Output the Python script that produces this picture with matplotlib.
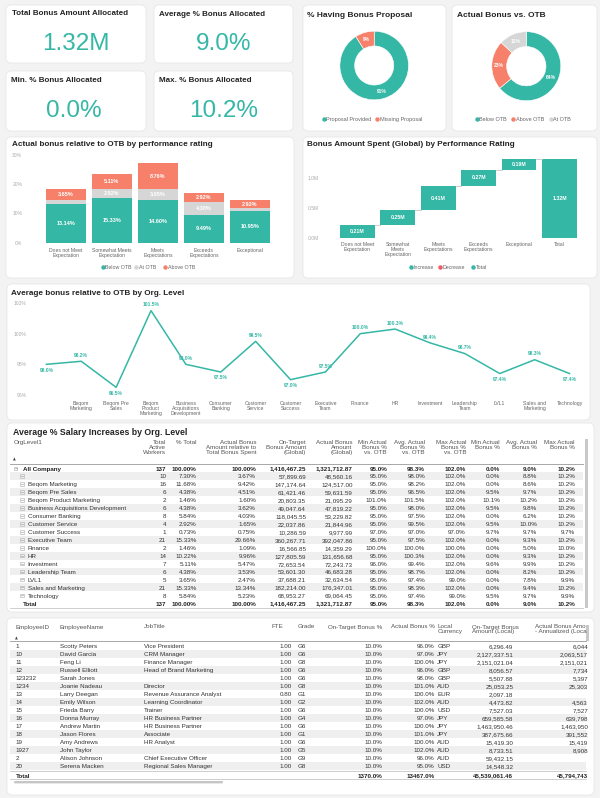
import matplotlib
matplotlib.use("Agg")
import matplotlib.pyplot as plt
from matplotlib.patches import FancyBboxPatch, Rectangle
import numpy as np

plt.rcParams['font.family'] = ['Liberation Sans', 'DejaVu Sans']

W, H = 600, 798
TEAL = '#35b7a6'
SALMON = '#f6806a'
LGRAY = '#d6d6d6'
RED = '#ee5a6a'
DARK = '#252423'
TXT = '#333333'
HDR = '#555555'
MUTED = '#666666'
AXC = '#aaaaaa'

# ---------------- data ----------------
kpi_titles = ['Total Bonus Amount Allocated', 'Average % Bonus Allocated',
              'Min. % Bonus Allocated', 'Max. % Bonus Allocated']
kpi_values = ['1.32M', '9.0%', '0.0%', '10.2%']

proposal_labels = ['Proposal Provided', 'Missing Proposal']
proposal_pct = [91, 9]
otb_labels = ['Below OTB', 'Above OTB', 'At OTB']
otb_pct = [64, 23, 13]

ratings = ['Does not Meet\nExpectation', 'Somewhat Meets\nExpectation', 'Meets\nExpectations',
           'Exceeds\nExpectations', 'Exceptional']
below_otb = [13.14, 15.33, 14.60, 9.49, 10.95]
at_otb = [1.46, 2.92, 3.65, 4.38, 0.73]
above_otb = [3.65, 5.11, 8.76, 2.92, 2.92]

wf_labels = ['Does not Meet\nExpectation', 'Somewhat\nMeets\nExpectation', 'Meets\nExpectations',
             'Exceeds\nExpectations', 'Exceptional', 'Total']
wf_values = [0.212, 0.246, 0.408, 0.269, 0.187]

org_names = ['', 'Beqom Marketing', 'Beqom Pre Sales', 'Beqom Product Marketing',
             'Business Acquisitions Development', 'Consumer Banking', 'Customer Service',
             'Customer Success', 'Executive Team', 'Finance', 'HR', 'Investment',
             'Leadership Team', 'LVL1', 'Sales and Marketing', 'Technology']
org_ticks = ['', 'Beqom\nMarketing', 'Beqom Pre\nSales', 'Beqom\nProduct\nMarketing',
             'Business\nAcquisitions\nDevelopment', 'Consumer\nBanking', 'Customer\nService',
             'Customer\nSuccess', 'Executive\nTeam', 'Finance', 'HR', 'Investment',
             'Leadership\nTeam', 'LVL1', 'Sales and\nMarketing', 'Technology']
workers = [10, 16, 6, 2, 6, 8, 4, 1, 21, 2, 14, 7, 6, 5, 21, 8]
pct_total = [7.30, 11.68, 4.38, 1.46, 4.38, 5.84, 2.92, 0.73, 15.33, 1.46, 10.22, 5.11, 4.38, 3.65, 15.33, 5.84]
rel_spent = [3.67, 9.42, 4.51, 1.60, 3.62, 4.03, 1.65, 0.75, 29.66, 1.09, 9.96, 5.47, 3.53, 2.47, 13.34, 5.23]
ontarget_global = [57899.69, 147174.64, 61421.46, 20803.35, 49047.64, 118045.55, 22037.86, 10286.59,
                   360267.71, 16566.85, 127805.59, 72653.54, 53601.30, 37688.21, 182214.00, 68953.27]
actual_global = [48560.16, 124517.00, 59631.59, 21095.29, 47819.22, 53229.82, 21844.96, 9977.99,
                 392047.86, 14359.29, 131656.68, 72243.73, 46683.28, 32634.54, 176347.01, 69064.45]
min_vs_otb = [95.0, 95.0, 95.0, 101.0, 95.0, 95.0, 95.0, 97.0, 95.0, 100.0, 95.0, 96.0, 95.0, 95.0, 95.0, 95.0]
avg_vs_otb = [98.0, 98.2, 96.5, 101.5, 98.0, 97.5, 99.5, 97.0, 97.5, 100.0, 100.3, 99.4, 98.7, 97.4, 98.3, 97.4]
max_vs_otb = [102.0, 102.0, 102.0, 102.0, 102.0, 102.0, 102.0, 97.0, 102.0, 100.0, 102.0, 102.0, 102.0, 99.0, 102.0, 99.0]
min_pct = [0.0, 0.0, 9.5, 10.1, 9.5, 0.0, 9.5, 9.7, 0.0, 0.0, 0.0, 9.6, 0.0, 0.0, 0.0, 9.5]
avg_pct = [8.8, 8.6, 9.7, 10.2, 9.8, 6.2, 10.0, 9.7, 9.3, 5.0, 9.3, 9.9, 8.2, 7.8, 9.4, 9.7]
max_pct = [10.2, 10.2, 10.2, 10.2, 10.2, 10.2, 10.2, 9.7, 10.2, 10.0, 10.2, 10.2, 10.2, 9.9, 10.2, 9.9]
org_total = [137, 100.00, 100.00, 1416467.25, 1321712.87, 95.0, 98.3, 102.0, 0.0, 9.0, 10.2]

emp_ids = ['1', '10', '11', '12', '123232', '1234', '13', '14', '15', '16', '17', '18', '19', '1927', '2', '20']
emp_names = ['Scotty Peters', 'David Garcia', 'Feng Li', 'Russell Elliott', 'Sarah Jones', 'Joanie Nadeau',
             'Larry Deegan', 'Emily Wilson', 'Frieda Barry', 'Donna Murray', 'Andrew Martin',
             'Jason Flores', 'Amy Andrews', 'John Taylor', 'Alison Johnson', 'Serena Macken']
job_titles = ['Vice President', 'CRM Manager', 'Finance Manager', 'Head of Brand Marketing', '', 'Director',
              'Revenue Assurance Analyst', 'Learning Coordinator', 'Trainer', 'HR Business Partner',
              'HR Business Partner', 'Associate', 'HR Analyst', '', 'Chief Executive Officer',
              'Regional Sales Manager']
fte = [1.00, 1.00, 1.00, 1.00, 1.00, 1.00, 0.80, 1.00, 1.00, 1.00, 1.00, 1.00, 1.00, 1.00, 1.00, 1.00]
grades = ['G6', 'G6', 'G8', 'G6', 'G6', 'G8', 'G1', 'G2', 'G6', 'G4', 'G6', 'G1', 'G6', 'G5', 'G9', 'G8']
ot_bonus_pct = [10.0] * 16
act_bonus_pct = [96.0, 97.0, 100.0, 96.0, 98.0, 101.0, 100.0, 102.0, 100.0, 97.0, 100.0, 101.0, 100.0, 102.0, 96.0, 95.0]
currency = ['GBP', 'JPY', 'JPY', 'GBP', 'GBP', 'AUD', 'EUR', 'AUD', 'USD', 'JPY', 'JPY', 'JPY', 'AUD', 'AUD', 'AUD', 'USD']
ot_local = [6296.49, 2127337.51, 2151021.04, 8056.57, 5507.88, 25053.25, 2097.18, 4473.82, 7527.03,
            659585.58, 1463950.46, 387675.66, 15419.30, 8733.51, 59432.15, 14548.32]
act_local_visible = ['6,044', '2,063,517', '2,151,021', '7,734', '5,397', '25,303', '', '4,563', '7,527',
                     '639,798', '1,463,950', '391,552', '15,419', '8,908', '', '']
emp_total = ['1370.0%', '13467.0%', '45,539,061.46', '45,794,743']

# ---------------- figure ----------------
fig = plt.figure(figsize=(6, 7.98), dpi=100)
fig.patch.set_facecolor('#f3f3f3')
bg = fig.add_axes([0, 0, 1, 1])
bg.set_xlim(0, W)
bg.set_ylim(H, 0)
bg.axis('off')


def pt2px(s):
    return s * 100 / 72


def T(x, y, s, size=4.5, ha='left', color=TXT, bold=False, **kw):
    """y = vertical centre of capital letters (pixels from top)"""
    bg.text(x, y + 0.358 * pt2px(size), s, fontsize=size, ha=ha, va='baseline', color=color,
            fontweight='bold' if bold else 'normal', **kw)


def TT(x, ytop, s, size=4.5, ha='left', color=HDR, ls=1.0, **kw):
    bg.text(x, ytop, s, fontsize=size, ha=ha, va='top', color=color, linespacing=ls,
            multialignment=ha, **kw)


def card(x0, y0, x1, y1):
    bg.add_patch(FancyBboxPatch((x0, y0), x1 - x0, y1 - y0, boxstyle='round,pad=0,rounding_size=5',
                                fc='white', ec='#e4e4e4', lw=0.5))


def pax(x0, y0, x1, y1):
    return fig.add_axes([x0 / W, 1 - y1 / H, (x1 - x0) / W, (y1 - y0) / H])


def legend(y, items, size=3.8):
    for x, lab, col in items:
        bg.plot([x], [y], 'o', ms=3.2, color=col, mec='none')
        T(x + 2.6, y, lab, size=size, color=MUTED)


# cards
card(6, 5, 146, 63)
card(154, 5, 293, 63)
card(6, 71, 146, 131)
card(154, 71, 293, 131)
card(303, 5, 446, 131)
card(452, 5, 597, 131)
card(6, 137, 294, 278)
card(303, 137, 597, 278)
card(7, 284, 590, 420)
card(7, 423, 594, 612)
card(7, 618, 594, 795)

# KPIs
kpi_title_pos = [(11.7, 12.5), (159.3, 13.3), (11, 79.3), (159.3, 79.3)]
kpi_val_pos = [(76.3, 50), (223.3, 50), (74, 116.7), (224, 116.7)]
for t, (x, y) in zip(kpi_titles, kpi_title_pos):
    T(x, y, t, size=5.8, color=DARK, bold=True)
for v, (x, y) in zip(kpi_values, kpi_val_pos):
    bg.text(x, y, v, fontsize=17.5, ha='center', va='baseline', color=TEAL)

# ---------------- donuts ----------------
def donut(cx, cy, r, vals, cols):
    ax = pax(cx - r, cy - r, cx + r, cy + r)
    ax.pie(vals, colors=cols, startangle=90, counterclock=False,
           wedgeprops=dict(width=0.43, edgecolor='white', linewidth=0.4))
    ax.set_xlim(-1, 1)
    ax.set_ylim(-1, 1)
    ax.set_aspect('equal')
    tot = sum(vals)
    start = 0.0
    for v in vals:
        mid = (start + v / 2) / tot * 2 * np.pi
        ax.text(0.79 * np.sin(mid), 0.79 * np.cos(mid), f'{v}%', ha='center', va='center',
                fontsize=3.6, color='white', fontweight='bold')
        start += v


T(307.3, 14, '% Having Bonus Proposal', size=6.0, color=DARK, bold=True)
donut(374.2, 65.5, 34.3, proposal_pct, [TEAL, SALMON])
legend(119.3, [(323.5, proposal_labels[0], TEAL), (377.3, proposal_labels[1], SALMON)], size=4.0)

T(456.7, 14, 'Actual Bonus vs. OTB', size=6.0, color=DARK, bold=True)
donut(526.3, 66.2, 34.5, otb_pct, [TEAL, SALMON, LGRAY])
legend(119.3, [(476.7, otb_labels[0], TEAL), (513.3, otb_labels[1], SALMON), (550.7, otb_labels[2], LGRAY)], size=4.0)

# ---------------- stacked bars ----------------
T(11.7, 143.3, 'Actual bonus relative to OTB by performance rating', size=5.9, color=DARK, bold=True)
ax = pax(30, 154.7, 286, 242.7)
x = np.arange(len(ratings))
b = np.array(below_otb)
a = np.array(at_otb)
o = np.array(above_otb)
ax.bar(x, b, width=0.87, color=TEAL)
ax.bar(x, a, bottom=b, width=0.87, color=LGRAY)
ax.bar(x, o, bottom=b + a, width=0.87, color=SALMON)
for i in range(len(x)):
    for bot, val in ((0, b[i]), (b[i], a[i]), (b[i] + a[i], o[i])):
        if val >= 2:
            ax.text(x[i], bot + val / 2, f'{val:.2f}%', ha='center', va='center', fontsize=4.0,
                    color='white', fontweight='bold')
ax.set_xlim(-0.78, 4.78)
ax.set_ylim(0, 30)
ax.set_yticks([0, 10, 20, 30])
ax.set_yticklabels(['0%', '10%', '20%', '30%'])
ax.set_xticks(x)
ax.set_xticklabels(ratings, linespacing=1.05)
ax.tick_params(axis='y', length=0, labelsize=3.6, labelcolor=AXC, pad=5.6)
ax.tick_params(axis='x', length=0, labelsize=3.7, labelcolor=MUTED, pad=4.0)
for s in ax.spines.values():
    s.set_visible(False)
ax.patch.set_alpha(0)
legend(267.3, [(102.7, 'Below OTB', TEAL), (136.3, 'At OTB', LGRAY), (165, 'Above OTB', SALMON)])

# ---------------- waterfall ----------------
T(306.7, 143.3, 'Bonus Amount Spent (Global) by Performance Rating', size=5.9, color=DARK, bold=True)
ax = pax(325, 154.1, 590, 237.7)
cum = np.concatenate([[0], np.cumsum(wf_values)])
wx = np.arange(len(wf_labels))
wdt = 0.86
for i, v in enumerate(wf_values):
    ax.bar(wx[i], v, bottom=cum[i], width=wdt, color=TEAL)
    ax.text(wx[i], cum[i] + v / 2, f'{v:.2f}M', ha='center', va='center', fontsize=3.8,
            color='white', fontweight='bold')
    ax.plot([wx[i] + wdt / 2, wx[i + 1] - wdt / 2], [cum[i + 1]] * 2, color='#c8c8c8', lw=0.6)
total = cum[-1]
ax.bar(wx[-1], total, width=wdt, color=TEAL)
ax.text(wx[-1], total / 2, f'{total:.2f}M', ha='center', va='center', fontsize=3.8,
        color='white', fontweight='bold')
ax.set_xlim(-0.80, 5.755)
ax.set_ylim(0, 1.4)
ax.set_yticks([0, 0.5, 1.0])
ax.set_yticklabels(['0.0M', '0.5M', '1.0M'])
ax.set_xticks(wx)
ax.set_xticklabels(wf_labels, linespacing=1.05)
ax.tick_params(axis='y', length=0, labelsize=3.6, labelcolor=AXC, pad=4.3)
ax.tick_params(axis='x', length=0, labelsize=3.7, labelcolor=MUTED, pad=3.0)
for s in ax.spines.values():
    s.set_visible(False)
ax.patch.set_alpha(0)
legend(267.3, [(411, 'Increase', TEAL), (440, 'Decrease', RED), (473.3, 'Total', TEAL)])

# ---------------- line chart ----------------
T(11, 291.7, 'Average bonus relative to OTB by Org. Level', size=5.9, color=DARK, bold=True)
ax = pax(30, 303, 580, 395)
lx = np.arange(len(org_names))
ly = np.array(avg_vs_otb)
ax.plot(lx, ly, color=TEAL, lw=1.1)
for i, v in enumerate(ly):
    prev = ly[i - 1] if i > 0 else ly[i + 1] + 0.01
    nxt = ly[i + 1] if i < len(ly) - 1 else ly[i - 1] + 0.01
    below = v < prev and v <= nxt
    if i == 0:
        below = True
    ax.annotate(f'{v:.1f}%', (lx[i], v), xytext=(0, -4.2 if below else 4.2), textcoords='offset points',
                ha='center', va='center', fontsize=3.6, color=TEAL, fontweight='bold')
ax.set_xlim(-0.47, 15.3)
ax.set_ylim(96, 102)
ax.set_yticks([96, 98, 100, 102])
ax.set_yticklabels(['96%', '98%', '100%', '102%'])
ax.set_xticks(lx)
ax.set_xticklabels(org_ticks, linespacing=1.05)
ax.tick_params(axis='y', length=0, labelsize=3.6, labelcolor=AXC, pad=2.5)
ax.tick_params(axis='x', length=0, labelsize=3.7, labelcolor=MUTED, pad=4.0)
for s in ax.spines.values():
    s.set_visible(False)
ax.patch.set_alpha(0)

# ---------------- table 1 ----------------
T(12.7, 431.7, 'Average % Salary Increases by Org. Level', size=6.3, color=DARK, bold=True)
col_rx = [166, 196.7, 256, 306, 352.7, 387, 425, 466, 500, 537, 575]
headers1 = ['Total\nActive\nWorkers', '% Total', 'Actual Bonus\nAmount relative to\nTotal Bonus Spent',
            'On-Target\nBonus Amount\n(Global)', 'Actual Bonus\nAmount\n(Global)',
            'Min Actual\nBonus %\nvs. OTB', 'Avg. Actual\nBonus %\nvs. OTB', 'Max Actual\nBonus %\nvs. OTB',
            'Min Actual\nBonus %', 'Avg. Actual\nBonus %', 'Max Actual\nBonus %']
TT(14, 440.3, 'OrgLevel1')
for xr, h in zip(col_rx, headers1):
    TT(xr, 440.3, h, ha='right')
bg.text(14.5, 459.3, '▲', fontsize=2.6, ha='center', va='center', color='#444444', family='DejaVu Sans')
bg.plot([10, 583], [464, 464], color='#999999', lw=0.6)
bg.add_patch(Rectangle((585, 439.3), 3.2, 169, fc='#c8c8c8', ec='none'))

RS = 7.94
Y0 = 468.3


def fmt_row(vals):
    w, pt, rs, og, ag, mn, av, mx, mnp, avp, mxp = vals
    return [f'{w}', f'{pt:.2f}%', f'{rs:.2f}%', f'{og:,.2f}', f'{ag:,.2f}', f'{mn:.1f}%', f'{av:.1f}%',
            f'{mx:.1f}%', f'{mnp:.1f}%', f'{avp:.1f}%', f'{mxp:.1f}%']


def expander(x, y):
    bg.add_patch(Rectangle((x - 1.8, y - 1.8), 3.6, 3.6, fc='none', ec='#aaaaaa', lw=0.4))
    bg.plot([x - 1.0, x + 1.0], [y, y], color='#888888', lw=0.4)


# all company row
expander(15.5, Y0)
T(23.3, Y0, 'All Company', bold=True, color='#222222')
for xr, s in zip(col_rx, fmt_row(org_total)):
    T(xr, Y0, s, ha='right', bold=True, color='#222222')
for i in range(len(org_names)):
    y = Y0 + (i + 1) * RS
    if i % 2 == 0:
        bg.add_patch(Rectangle((10, y - RS / 2), 573, RS, fc='#efefef', ec='none'))
    expander(22.2, y)
    T(27.5, y, org_names[i])
    vals = [workers[i], pct_total[i], rel_spent[i], ontarget_global[i], actual_global[i], min_vs_otb[i],
            avg_vs_otb[i], max_vs_otb[i], min_pct[i], avg_pct[i], max_pct[i]]
    for xr, s in zip(col_rx, fmt_row(vals)):
        T(xr, y, s, ha='right')
yt = Y0 + 17 * RS
T(22.7, yt, 'Total', bold=True, color='#222222')
for xr, s in zip(col_rx, fmt_row(org_total)):
    T(xr, yt, s, ha='right', bold=True, color='#222222')
bg.plot([10, 583], [yt + 4.3, yt + 4.3], color='#bbbbbb', lw=0.5)

# ---------------- table 2 ----------------
HY = 624.5
TT(15.7, HY, 'EmployeeID')
TT(60, HY, 'EmployeeName')
TT(144, HY, 'JobTitle')
TT(283, HY, 'FTE', ha='right')
TT(298, HY, 'Grade')
TT(382.5, HY, 'On-Target Bonus %', ha='right')
TT(434.7, HY, 'Actual Bonus %', ha='right')
TT(437.3, HY, 'Local\nCurrency')
TT(471.7, HY, 'On-Target Bonus\nAmount (Local)')
TT(535.3, HY, 'Actual Bonus Amo\n- Annualized (Loca')
bg.text(16.5, 638, '▲', fontsize=2.6, ha='center', va='center', color='#444444', family='DejaVu Sans')
bg.plot([10, 586], [641.3, 641.3], color='#999999', lw=0.6)
bg.add_patch(Rectangle((586, 625), 3.2, 16, fc='#c8c8c8', ec='none'))

R2 = 8.0
Y2 = 646
for i in range(len(emp_ids)):
    y = Y2 + i * R2
    if i % 2 == 1:
        bg.add_patch(Rectangle((10, y - R2 / 2), 576, R2, fc='#efefef', ec='none'))
    T(15.7, y, emp_ids[i])
    T(60, y, emp_names[i])
    T(144, y, job_titles[i])
    T(292, y, f'{fte[i]:.2f}', ha='right')
    T(297.5, y, grades[i])
    T(382.5, y, f'{ot_bonus_pct[i]:.1f}%', ha='right')
    T(434.5, y, f'{act_bonus_pct[i]:.1f}%', ha='right')
    T(437.3, y, currency[i])
    T(513.3, y, f'{ot_local[i]:,.2f}', ha='right')
    T(588, y, act_local_visible[i], ha='right')
ytot = 775.3
bg.plot([10, 586], [771.3, 771.3], color='#bbbbbb', lw=0.5)
T(15.7, ytot, 'Total', bold=True, color='#222222')
T(382.5, ytot, emp_total[0], ha='right', bold=True, color='#222222')
T(434.5, ytot, emp_total[1], ha='right', bold=True, color='#222222')
T(513.3, ytot, emp_total[2], ha='right', bold=True, color='#222222')
T(588, ytot, emp_total[3], ha='right', bold=True, color='#222222')
bg.plot([10, 586], [779, 779], color='#bbbbbb', lw=0.5)
bg.add_patch(FancyBboxPatch((14, 781), 209, 2.4, boxstyle='round,pad=0,rounding_size=1.2',
                            fc='#c6c6c6', ec='none'))

fig.savefig('out.png', dpi=100, facecolor=fig.get_facecolor())
